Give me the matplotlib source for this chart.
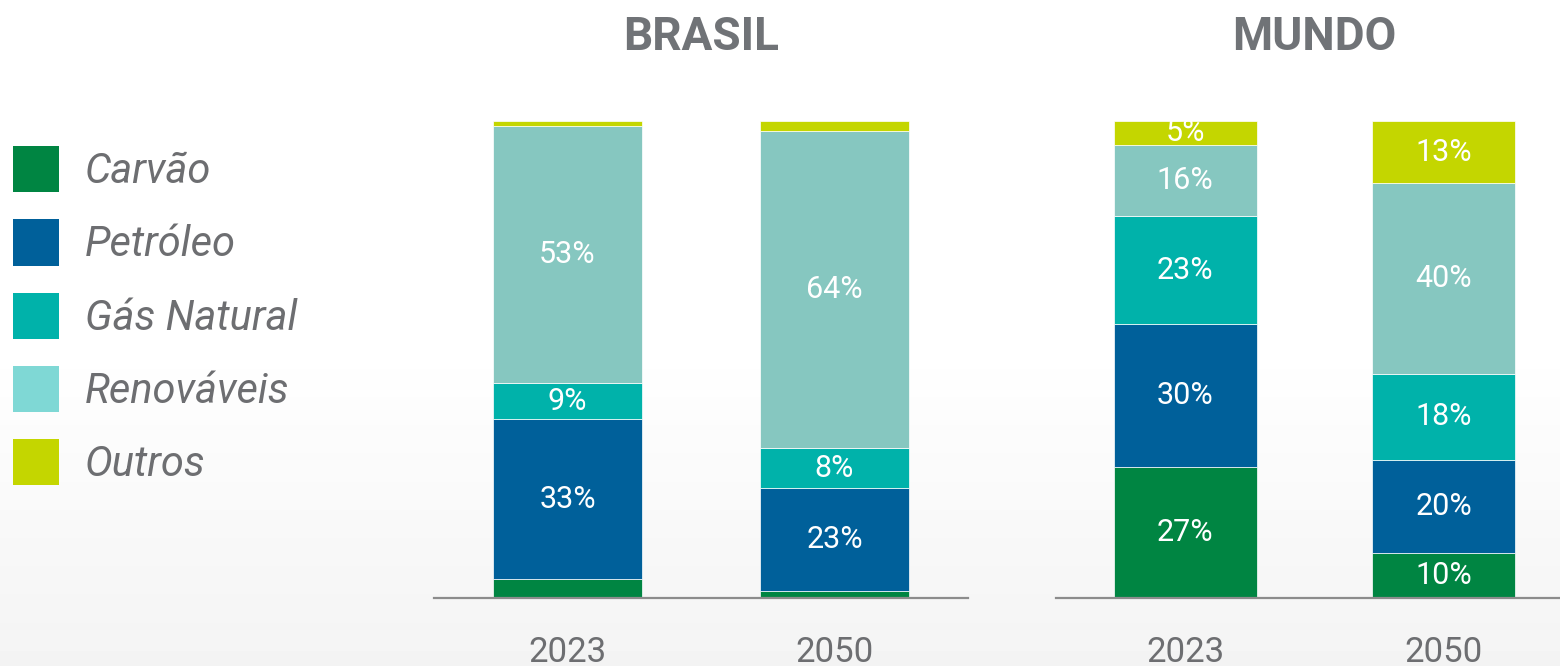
import numpy as np
import matplotlib.pyplot as plt
from matplotlib.patches import Patch

plt.rcParams['font.family'] = ['Roboto', 'DejaVu Sans']

fontes = ['Carvão', 'Petróleo', 'Gás Natural', 'Renováveis', 'Outros']
anos = ['2023', '2050']

brasil_shares = [[4, 1.5], [33.5, 21.5], [7.5, 8.5], [54, 66.5], [1, 2]]
mundo_shares = [[27.5, 9.5], [30, 19.5], [22.5, 18], [15, 40], [5, 13]]

# rótulos escritos nas barras (None = sem rótulo)
brasil_pct = [[None, None], [33, 23], [9, 8], [53, 64], [None, None]]
mundo_pct = [[27, 10], [30, 20], [23, 18], [16, 40], [5, 13]]

cores = ['#008542', '#00609a', '#00b2aa', '#86c7c0', '#c4d600']
cores_legenda = ['#008542', '#00609a', '#00b2aa', '#7fd8d5', '#c4d600']
cinza = '#6d6e71'

fig = plt.figure(figsize=(15.6, 6.66), dpi=100)

# fundo com leve degradê
bg = fig.add_axes([0, 0, 1, 1], zorder=-10)
grad = np.concatenate([np.ones(340), np.linspace(1.0, 0.955, 326)])[:, None]
bg.imshow(grad, aspect='auto', cmap='gray', vmin=0, vmax=1, extent=[0, 1, 0, 1])
bg.axis('off')


def painel(ax, shares, pct, titulo):
    x = np.arange(len(anos))
    base = np.zeros(len(anos))
    for i in range(len(fontes)):
        vals = np.array(shares[i], dtype=float)
        ax.bar(x, vals, width=0.555, bottom=base, color=cores[i],
               edgecolor='white', linewidth=0.5)
        for j in range(len(anos)):
            if pct[i][j] is not None:
                ax.text(x[j], base[j] + vals[j] / 2, f'{pct[i][j]}%',
                        ha='center', va='center', color='white', fontsize=22)
        base += vals
    ax.set_xlim(-0.5, 1.5)
    ax.set_ylim(0, 100)
    for s in ['left', 'right', 'top']:
        ax.spines[s].set_visible(False)
    ax.spines['bottom'].set_color('#8c8c8c')
    ax.spines['bottom'].set_linewidth(1.6)
    ax.set_yticks([])
    ax.set_xticks(x, anos)
    ax.tick_params(axis='x', length=0, pad=27, labelsize=25, labelcolor=cinza)
    ax.set_facecolor('none')
    ax.text(0.5, 1.176, titulo, transform=ax.transAxes, ha='center', va='center',
            fontsize=33, fontweight='bold', color='#707377')


ax1 = fig.add_axes([434 / 1560, 68 / 666, 534 / 1560, 477 / 666])
painel(ax1, brasil_shares, brasil_pct, 'BRASIL')
ax2 = fig.add_axes([1056 / 1560, 68 / 666, 517 / 1560, 477 / 666])
painel(ax2, mundo_shares, mundo_pct, 'MUNDO')

handles = [Patch(facecolor=c) for c in cores_legenda]
fig.legend(handles, fontes, loc='upper left', bbox_to_anchor=(13 / 1560, 1 - 146 / 666),
           frameon=False, borderpad=0, borderaxespad=0,
           prop={'size': 30, 'style': 'italic'}, labelcolor=cinza,
           handlelength=1.1, handleheight=1.33, handletextpad=0.62, labelspacing=0.65)

fig.savefig('out.png', dpi=100)
